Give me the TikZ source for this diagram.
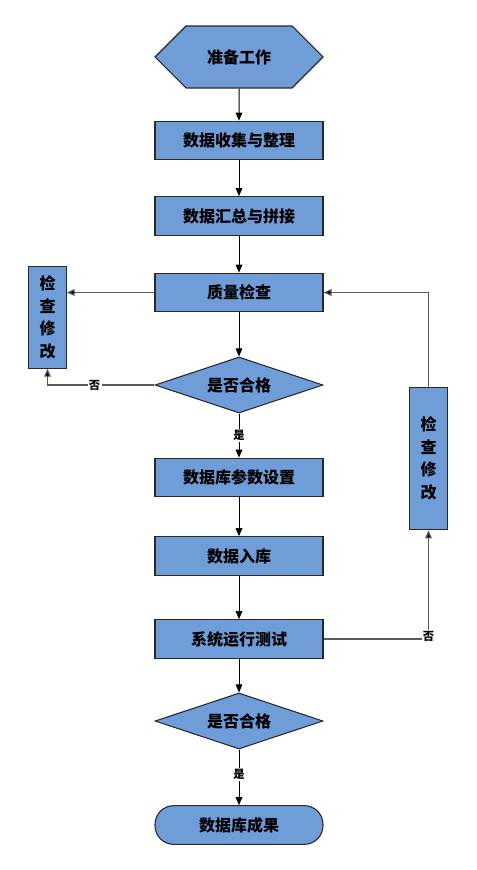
\documentclass[tikz,border=0pt]{standalone}
\usepackage{fontspec}
\newfontfamily\cjk{Noto Sans CJK SC}
\usetikzlibrary{shapes.geometric,shapes.misc,arrows.meta}
\definecolor{boxfill}{RGB}{111,157,216}
\definecolor{boxline}{RGB}{40,40,40}
\definecolor{sideline}{RGB}{90,90,90}
\tikzset{
  base/.style={draw=boxline,fill=boxfill,line width=0.8pt,font=\cjk\bfseries\fontsize{12}{14}\selectfont,inner sep=0pt},
  stepbox/.style={base,rectangle,minimum width=126pt,minimum height=29pt},
  sidebox/.style={base,rectangle,minimum width=28pt,align=center,font=\cjk\bfseries\fontsize{12}{17}\selectfont},
  decision/.style={base,diamond,aspect=3,minimum width=126pt,minimum height=42pt},
  startnode/.style={base,chamfered rectangle,chamfered rectangle xsep=15pt,chamfered rectangle ysep=17.5pt,minimum width=126pt,minimum height=35pt},
  endnode/.style={base,rectangle,rounded corners=14pt,minimum width=126pt,minimum height=29pt},
  conn/.style={line width=0.75pt,draw=black,-{Triangle[length=6pt,width=5pt]}},
  sconn/.style={line width=0.9pt,draw=sideline,-{Triangle[length=6pt,width=5pt,fill=black]}},
  lab/.style={fill=white,inner sep=1pt,font=\cjk\bfseries\fontsize{8.5}{10}\selectfont}
}
\begin{document}
\begin{tikzpicture}[x=0.75pt,y=-0.75pt]
\useasboundingbox[fill=white] (0,0) rectangle (477,870);
\node[startnode] (s) at (239,57) {准备工作};
\node[stepbox] (b1) at (239,140.5) {数据收集与整理};
\node[stepbox] (b2) at (239,216) {数据汇总与拼接};
\node[stepbox] (b3) at (239,292.5) {质量检查};
\node[decision] (d1) at (239,385) {是否合格};
\node[stepbox] (b4) at (239,477.5) {数据库参数设置};
\node[stepbox] (b5) at (239,556) {数据入库};
\node[stepbox] (b6) at (239,639) {系统运行测试};
\node[decision] (d2) at (239,721) {是否合格};
\node[endnode] (e) at (239,825) {数据库成果};
\node[sidebox,minimum height=76pt] (L) at (47.5,317.5) {检\\查\\修\\改};
\node[sidebox,minimum height=107pt] (R) at (428.5,458.5) {检\\查\\修\\改};
\coordinate (c1) at (47.5,385);
\coordinate (c2) at (428.5,639);
\coordinate (c3) at (428.5,292.5);

\draw[conn] (s) -- (b1);
\draw[conn] (b1) -- (b2);
\draw[conn] (b2) -- (b3);
\draw[conn] (b3) -- (d1);
\draw[conn] (d1) -- node[lab]{是} (b4);
\draw[conn] (b4) -- (b5);
\draw[conn] (b5) -- (b6);
\draw[conn] (b6) -- (d2);
\draw[conn] (d2) -- node[lab,pos=0.45]{是} (e);
\draw[sconn] (b3.west) -- (b3.west -| L.east);
\draw[sconn] (d1.west) -- node[lab,pos=0.56]{否} (c1) -- (L.south);
\draw[sconn] (b6.east) -- (c2) -- (R.south);
\node[lab] at (428.5,636) {否};
\draw[sconn] (R.north) -- (c3) -- (b3.east);
\end{tikzpicture}
\end{document}
